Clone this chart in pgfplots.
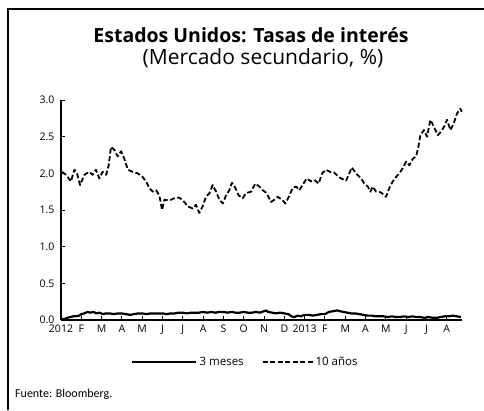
\documentclass[border=0pt]{standalone}
\usepackage{fontspec}
\setmainfont{Open Sans}
\newfontfamily\calfont{Carlito}
\usepackage{pgfplots}
\pgfplotsset{compat=1.18}
\pgfplotsset{
  shortleg/.style={legend image code/.code={\draw[##1] (0pt,0pt) -- (64pt,0pt);}},
  longleg/.style={legend image code/.code={\draw[##1] (0pt,0pt) -- (50pt,0pt);}},
}
\begin{document}
\begin{tikzpicture}
\path[use as bounding box] (0pt,0pt) rectangle (484pt,410pt);
\draw[line width=1.5pt] (8pt,0pt) -- (8pt,401pt) -- (484pt,401pt);
\node[font=\fontsize{19.5}{22}\selectfont\bfseries, anchor=base] at (251pt,367pt) {Estados Unidos: Tasas de interés};
\node[font=\fontsize{21}{24}\selectfont, anchor=base] at (263pt,345pt) {(Mercado secundario, \%)};
\node[font=\calfont\fontsize{12}{14}\selectfont, anchor=base west, inner sep=0pt] at (15pt,13pt) {Fuente: Bloomberg.};
\begin{axis}[
  at={(61pt,90pt)}, anchor=south west,
  scale only axis, width=401pt, height=220pt,
  xmin=0, xmax=19.75, ymin=0, ymax=3.0,
  axis x line*=bottom, axis y line*=left,
  axis line style={-, line width=1.2pt},
  xtick={0,1,...,19},
  xticklabels={2012,F,M,A,M,J,J,A,S,O,N,D,2013,F,M,A,M,J,J,A},
  ytick={0,0.5,...,3.0},
  tick align=inside, major tick length=4pt,
  tick style={line width=1pt, black},
  /pgf/number format/assume math mode=true,
  yticklabel style={/pgf/number format/fixed, /pgf/number format/precision=1, /pgf/number format/fixed zerofill, font=\fontsize{10.5}{12}\selectfont, xshift=-3pt},
  xticklabel style={font=\fontsize{10.5}{12}\selectfont, yshift=-1pt},
  legend style={at={(0.46,-0.191)}, anchor=center, draw=none, fill=none,
    legend columns=2, font=\fontsize{11.5}{13}\selectfont,
    /tikz/every even column/.append style={column sep=16pt}},
  legend cell align=left,
  clip=false,
]
\addplot[black, line width=2.2pt, line join=round, shortleg] coordinates {
(0.0,0.02)(0.15,0.01)(0.3,0.03)(0.45,0.04)(0.6,0.05)(0.75,0.05)(0.9,0.06)(1.0,0.08)
(1.15,0.09)(1.3,0.11)(1.45,0.10)(1.6,0.11)(1.75,0.09)(1.9,0.10)(2.05,0.08)(2.2,0.09)
(2.4,0.09)(2.6,0.08)(2.8,0.09)(3.0,0.09)(3.2,0.08)(3.4,0.07)(3.6,0.08)(3.8,0.09)
(4.0,0.09)(4.2,0.08)(4.4,0.09)(4.6,0.09)(4.8,0.09)(5.0,0.09)(5.2,0.08)(5.4,0.09)
(5.6,0.09)(5.8,0.10)(6.0,0.10)(6.2,0.09)(6.4,0.10)(6.6,0.10)(6.8,0.10)(7.0,0.11)
(7.2,0.10)(7.4,0.11)(7.6,0.10)(7.8,0.11)(8.0,0.11)(8.2,0.10)(8.4,0.11)(8.6,0.10)
(8.8,0.10)(9.0,0.11)(9.2,0.10)(9.4,0.10)(9.6,0.11)(9.8,0.10)(10.0,0.12)(10.1,0.13)
(10.2,0.11)(10.4,0.10)(10.6,0.09)(10.8,0.10)(11.0,0.09)(11.2,0.08)(11.35,0.05)(11.5,0.04)
(11.65,0.06)(11.8,0.05)(12.0,0.07)(12.2,0.07)(12.4,0.06)(12.6,0.07)(12.8,0.08)(13.0,0.08)
(13.2,0.11)(13.4,0.12)(13.6,0.13)(13.75,0.12)(13.9,0.11)(14.1,0.10)(14.3,0.09)(14.5,0.09)
(14.7,0.08)(14.9,0.07)(15.1,0.06)(15.3,0.06)(15.5,0.05)(15.7,0.05)(15.9,0.05)(16.1,0.04)
(16.3,0.05)(16.5,0.04)(16.7,0.04)(16.9,0.05)(17.1,0.04)(17.3,0.05)(17.5,0.04)(17.7,0.04)
(17.9,0.03)(18.1,0.04)(18.3,0.03)(18.5,0.03)(18.7,0.04)(18.9,0.05)(19.1,0.05)(19.3,0.06)
(19.5,0.05)(19.7,0.04)
};
\addlegendentry{3 meses}
\addplot[black, line width=1.8pt, dash pattern=on 5pt off 2.5pt, line join=round, longleg] coordinates {
(0.05,2.02)(0.25,1.98)(0.49,1.89)(0.66,2.05)(0.79,2.00)(0.94,1.84)(1.15,1.98)(1.39,2.02)
(1.56,1.98)(1.72,2.05)(1.89,1.93)(2.05,2.02)(2.22,1.98)(2.35,2.11)(2.46,2.36)(2.63,2.32)
(2.79,2.23)(2.96,2.30)(3.12,2.20)(3.29,2.05)(3.53,2.02)(3.78,2.00)(4.02,1.95)(4.19,1.89)
(4.35,1.80)(4.52,1.75)(4.68,1.77)(4.84,1.70)(4.98,1.50)(5.09,1.64)(5.33,1.63)(5.58,1.66)
(5.83,1.67)(6.07,1.61)(6.24,1.55)(6.49,1.52)(6.65,1.57)(6.81,1.46)(6.98,1.55)(7.14,1.68)
(7.31,1.73)(7.47,1.84)(7.64,1.75)(7.80,1.64)(7.97,1.59)(8.13,1.70)(8.29,1.77)(8.42,1.87)
(8.59,1.80)(8.75,1.70)(8.95,1.66)(9.11,1.73)(9.36,1.75)(9.57,1.86)(9.77,1.82)(9.94,1.77)
(10.13,1.73)(10.34,1.61)(10.51,1.64)(10.67,1.68)(10.89,1.64)(11.05,1.59)(11.22,1.68)(11.41,1.80)
(11.58,1.82)(11.74,1.77)(11.94,1.86)(12.10,1.93)(12.32,1.89)(12.48,1.91)(12.69,1.86)(12.86,2.00)
(13.05,2.05)(13.25,2.02)(13.46,2.01)(13.68,1.95)(13.79,1.93)(14.04,1.90)(14.20,2.00)(14.32,2.08)
(14.53,2.00)(14.78,1.93)(14.94,1.86)(15.11,1.82)(15.24,1.75)(15.35,1.82)(15.52,1.75)(15.76,1.74)
(16.01,1.68)(16.17,1.80)(16.34,1.89)(16.50,1.95)(16.67,2.00)(16.83,2.07)(17.00,2.16)(17.16,2.11)
(17.33,2.20)(17.49,2.23)(17.60,2.36)(17.70,2.52)(17.87,2.59)(18.03,2.50)(18.19,2.73)(18.36,2.64)
(18.56,2.52)(18.72,2.57)(18.88,2.64)(19.01,2.73)(19.18,2.59)(19.34,2.68)(19.51,2.82)(19.67,2.88)
(19.74,2.84)
};
\addlegendentry{10 años}
\end{axis}
\end{tikzpicture}
\end{document}
